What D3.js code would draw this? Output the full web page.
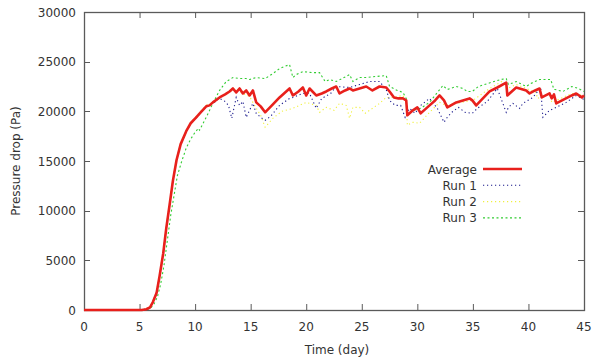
<!DOCTYPE html>
<html><head><meta charset="utf-8">
<script src="https://cdn.jsdelivr.net/npm/d3@7"></script>
<style>body{margin:0;background:#fff}svg{display:block}text{font-family:"DejaVu Sans",sans-serif;}</style>
</head><body><svg id="c" width="592" height="360"></svg>
<script>
const xTicks = [0,5,10,15,20,25,30,35,40,45];
const yTicks = [0,5000,10000,15000,20000,25000,30000];
const seriesNames = ["Average","Run 1","Run 2","Run 3"];

const avgT = [0,5.2,5.6,5.93,6.2,6.53,6.8,7.13,7.4,7.73,8.0,8.33,8.7,9.2,9.6,10.1,10.5,11.0,11.3,11.6,12.2,12.7,13.1,13.4,13.7,14.0,14.3,14.6,14.9,15.2,15.5,15.9,16.3,17.0,17.6,18.1,18.5,18.8,19.3,19.7,20.0,20.3,20.9,21.4,21.8,22.3,22.7,23.0,23.5,23.9,24.2,24.8,25.4,25.96,26.6,27.2,27.5,27.9,28.3,28.7,29.0,29.1,29.6,30.0,30.3,30.7,31.1,31.6,32.0,32.4,32.7,33.5,34.1,34.7,34.95,35.3,35.9,36.5,37.2,38.0,38.1,38.5,38.9,39.8,40.1,40.6,41.0,41.2,41.9,42.1,42.3,42.5,43.2,43.9,44.3,44.8,45];
const avgV = [0,0,80,250,800,1700,3400,5700,8200,10800,13000,15100,16700,18000,18800,19400,19900,20500,20600,20900,21400,21700,22000,22300,21900,22300,21800,22100,21600,22100,20900,20500,19900,20700,21400,21900,22300,21600,22000,22400,21600,22300,21600,21800,22000,22300,22500,21800,22100,22300,22100,22300,22500,22100,22500,22400,22000,21400,21300,21300,21100,19600,20100,20400,19800,20200,20600,21100,21600,21100,20400,20900,21100,21300,21100,20600,21300,22000,22400,22900,21600,22000,22400,22100,21800,22100,22300,21400,21800,21300,21700,20800,21200,21600,21800,21400,21600];

const run1T = [0,5.2,5.6,5.93,6.2,6.53,6.8,7.13,7.4,7.73,8.0,8.33,8.7,9.2,9.6,10.1,10.5,11.0,11.6,12.2,12.7,13.0,13.3,13.7,14.0,14.3,14.6,14.9,15.2,15.5,15.9,16.3,16.8,17.6,18.5,18.8,19.7,20.3,20.9,21.4,22.2,22.7,23.9,24.8,25.7,26.6,27.2,27.5,28.0,28.5,28.9,29.3,29.8,30.3,31.1,31.8,32.4,32.7,33.1,33.7,34.3,34.95,35.4,36.3,37.2,38.0,38.2,38.6,39.2,39.5,40.4,41.1,41.3,41.9,42.5,43.4,44.3,45];
const run1V = [0,0,80,250,800,1700,3400,5700,8200,10800,13000,15100,16700,17900,18800,19300,19900,20400,20800,21300,21000,20600,19300,21400,20600,21000,19400,20100,20800,19800,19400,19100,19500,20600,21300,21400,21800,21800,20300,21300,21800,22500,22400,22700,23000,23000,22200,21100,20600,20600,19400,20300,19800,20600,21300,20300,18900,19400,19900,20400,19900,19800,20300,21000,22300,19900,20400,20800,20300,20800,21400,22400,19400,20100,20400,20900,21600,21200];

const run2T = [0,5.2,5.6,5.93,6.2,6.53,6.8,7.13,7.4,7.73,8.0,8.33,8.7,9.2,9.6,10.1,10.5,11.0,11.6,12.2,12.7,13.1,13.7,14.3,14.9,15.4,15.9,16.3,17.0,17.8,18.8,19.4,20.0,20.9,21.2,21.8,22.5,23.0,23.6,23.9,24.2,24.8,25.3,25.96,26.6,27.2,27.8,28.7,29.0,29.1,29.6,30.2,31.1,32.0,32.6,33.5,34.4,35.0,36.5,37.6,38.1,38.9,39.8,40.7,40.8,41.9,42.1,42.7,43.9,44.8,45];
const run2V = [0,0,100,300,900,1900,3600,6000,8500,11000,13200,15200,16800,18000,18900,19500,20000,20600,20900,21400,21700,22000,22300,21800,21500,20500,19600,18400,19300,20000,20300,20600,20900,20600,19900,20400,20100,20800,20600,19300,20400,20400,19800,20300,20800,21400,21400,21600,20900,18600,18900,18800,19900,20900,20600,20800,21000,21100,22300,23000,22300,22700,22300,21900,21300,21800,20900,21200,21800,21600,21600];

const run3T = [0,5.3,5.7,6.0,6.3,6.6,6.9,7.2,7.5,7.8,8.1,8.4,8.8,9.2,9.6,10.0,10.3,10.4,11.0,11.6,12.2,12.8,13.4,14.0,14.6,14.9,15.5,16.3,17.0,17.6,18.0,18.5,18.8,19.1,19.7,20.5,21.2,21.7,22.1,22.7,23.4,23.9,24.2,24.8,25.4,26.2,27.2,27.5,28.2,28.7,29.0,29.1,29.6,30.3,31.1,31.8,32.3,32.7,33.5,34.1,34.5,34.95,35.5,36.6,37.5,38.0,38.2,38.9,39.8,40.2,41.0,42.0,42.3,42.4,43.1,43.9,44.5,45];
const run3V = [0,0,60,200,600,1300,2600,4500,7000,9500,11500,13500,15000,16300,17200,17900,18300,18100,19400,20800,22100,23000,23400,23300,23300,23200,23400,23300,23800,24300,24500,24700,23400,23700,24000,23900,23900,23000,23200,23000,23400,23700,23000,23400,23400,23500,23600,22500,22100,21900,21300,19600,20100,20300,20900,21900,22600,22200,22500,22300,22000,22000,22500,22900,23200,23300,22700,23000,22500,22800,23200,23200,22200,22200,22000,22500,22300,22000];

const svg = d3.select("#c");
const L=84, R=584, T=12, B=310;
const x = d3.scaleLinear().domain([0,45]).range([L,R]);
const y = d3.scaleLinear().domain([0,30000]).range([B,T]);
const axisCol = "#5a5a5a", txtCol = "#333";

const tk = svg.append("g").attr("stroke", axisCol).attr("stroke-width",1);
xTicks.forEach(v=>{ if(v>0 && v<45){
  tk.append("line").attr("x1",x(v)+0.5).attr("x2",x(v)+0.5).attr("y1",B).attr("y2",B-6);
  tk.append("line").attr("x1",x(v)+0.5).attr("x2",x(v)+0.5).attr("y1",T).attr("y2",T+6);
}});
yTicks.forEach(v=>{ if(v>0 && v<30000){
  tk.append("line").attr("x1",L).attr("x2",L+6).attr("y1",Math.round(y(v))+0.5).attr("y2",Math.round(y(v))+0.5);
  tk.append("line").attr("x1",R).attr("x2",R-6).attr("y1",Math.round(y(v))+0.5).attr("y2",Math.round(y(v))+0.5);
}});
svg.append("rect").attr("x",L+0.5).attr("y",T+0.5).attr("width",R-L).attr("height",B-T)
  .attr("fill","none").attr("stroke",axisCol).attr("stroke-width",1.3);

svg.append("g").selectAll("text").data(xTicks).join("text")
  .attr("x",d=>x(d)).attr("y",331).attr("text-anchor","middle")
  .attr("font-size",12).attr("fill",txtCol).text(d=>d);
svg.append("g").selectAll("text").data(yTicks).join("text")
  .attr("x",76).attr("y",d=>y(d)+4.5).attr("text-anchor","end")
  .attr("font-size",12).attr("fill",txtCol).text(d=>d);

svg.append("text").attr("x",337).attr("y",354).attr("text-anchor","middle")
  .attr("font-size",12).attr("fill",txtCol).text("Time (day)");
svg.append("text").attr("transform","translate(20,161) rotate(-90)").attr("text-anchor","middle")
  .attr("font-size",12).attr("fill",txtCol).text("Pressure drop (Pa)");

const line = d3.line().x(d=>x(d[0])).y(d=>y(d[1]));
const zip = (a,b)=>a.map((t,i)=>[t,b[i]]);
const styles = [
  {col:"#e8201c", w:2.6, dash:null},
  {col:"#1a1a8c", w:1.1, dash:"1.2,2.8"},
  {col:"#f0f040", w:1.1, dash:"1.2,2.8"},
  {col:"#33cc33", w:1.1, dash:"2,2.5"}
];
const g = svg.append("g");
[zip(run3T,run3V),zip(run2T,run2V),zip(run1T,run1V)].forEach((d,i)=>{
  const s = styles[3-i];
  g.append("path").datum(d).attr("d",line).attr("fill","none")
   .attr("stroke",s.col).attr("stroke-width",s.w).attr("stroke-dasharray",s.dash);
});
g.append("path").datum(zip(avgT,avgV)).attr("d",line).attr("fill","none")
  .attr("stroke",styles[0].col).attr("stroke-width",styles[0].w).attr("stroke-linejoin","round");

const lg = svg.append("g");
seriesNames.forEach((n,i)=>{
  const yy = 169 + i*16.3;
  lg.append("text").attr("x",477).attr("y",yy+4.5).attr("text-anchor","end")
    .attr("font-size",12).attr("fill",txtCol).text(n);
  lg.append("line").attr("x1",483).attr("x2",522).attr("y1",yy).attr("y2",yy)
    .attr("stroke",styles[i].col).attr("stroke-width",styles[i].w).attr("stroke-dasharray",styles[i].dash);
});
</script></body></html>
